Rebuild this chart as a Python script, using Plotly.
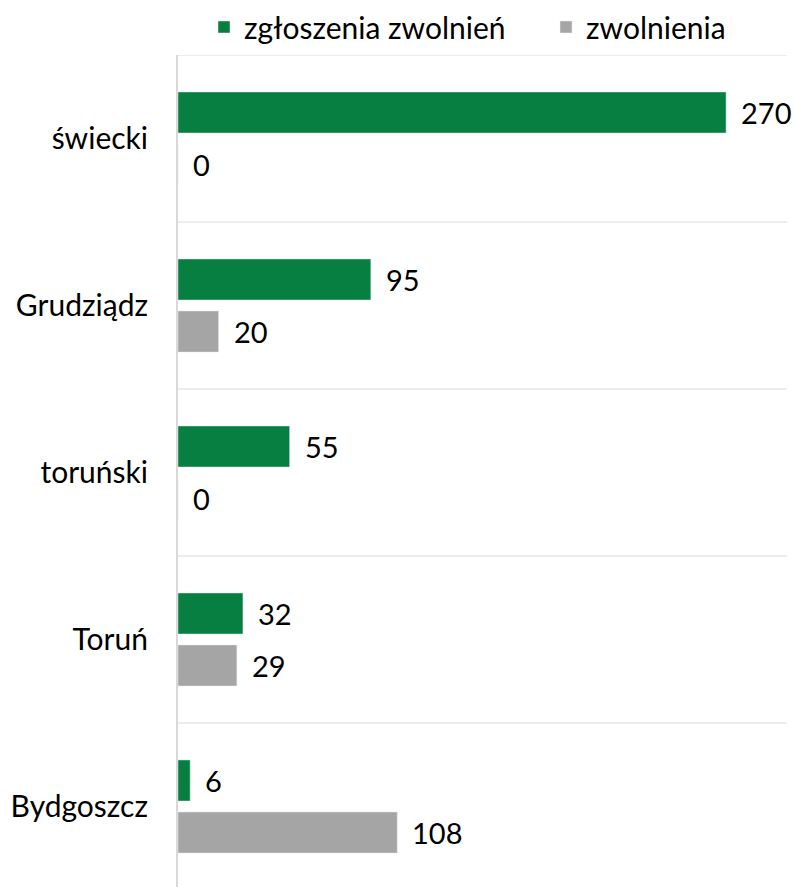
import plotly.graph_objects as go

categories = ["świecki", "Grudziądz", "toruński", "Toruń", "Bydgoszcz"]
zgloszenia = [270, 95, 55, 32, 6]
zwolnienia = [0, 20, 0, 29, 108]
series_names = ["zgłoszenia zwolnień", "zwolnienia"]

GREEN = "#077F40"
GRAY = "#A5A5A5"
FONT = "Lato"
FS = 29

W, H = 794, 887

fig = go.Figure()
fig.add_trace(go.Bar(y=categories, x=zgloszenia, name=series_names[0], orientation="h",
                     marker=dict(color=GREEN), hoverinfo="x+y", legend="legend"))
fig.add_trace(go.Bar(y=categories, x=zwolnienia, name=series_names[1], orientation="h",
                     marker=dict(color=GRAY), hoverinfo="x+y", legend="legend2"))

# value labels
annotations = []
n = 2
slot = 0.311
for i, vals in enumerate([zgloszenia, zwolnienia]):
    off = (i - (n - 1) / 2) * slot
    for j, v in enumerate(vals):
        annotations.append(dict(x=v, y=j + off, xref="x", yref="y", text=str(v),
                                showarrow=False, xanchor="left", yanchor="middle",
                                xshift=13, font=dict(family=FONT, size=FS, color="#000000")))

legend_common = dict(orientation="h", xanchor="left", xref="container", yref="container",
                     y=1 - 27 / H, yanchor="middle", font=dict(size=30), itemwidth=30,
                     bgcolor="rgba(0,0,0,0)")

fig.update_layout(
    width=W, height=H,
    margin=dict(l=178, r=7, t=55, b=0, autoexpand=False),
    paper_bgcolor="white", plot_bgcolor="white",
    barmode="group", bargap=0.377, bargroupgap=0.21,
    font=dict(family=FONT, size=FS, color="#000000"),
    legend=dict(x=204 / W, **legend_common),
    legend2=dict(x=546 / W, **legend_common),
    annotations=annotations,
    showlegend=True,
)
fig.update_xaxes(range=[0, 300], showgrid=False, showticklabels=False, zeroline=False,
                 showline=False, fixedrange=True, automargin=False)
fig.update_yaxes(type="category", range=[4.482, -0.5], showgrid=False, zeroline=False,
                 showline=True, linecolor="#D9D9D9", linewidth=2, ticks="", automargin=False,
                 ticklabelstandoff=22, tickfont=dict(family=FONT, size=30, color="#000000"))
# gridlines between categories
shapes = []
for k in range(len(categories)):
    shapes.append(dict(type="line", xref="paper", yref="y", x0=0, x1=1, y0=k - 0.5, y1=k - 0.5,
                       line=dict(color="#EDEDED", width=2), layer="below"))
fig.update_layout(shapes=shapes)

fig.write_html("out.html", config={"displayModeBar": False},
               post_script="document.body.style.margin='0';document.body.style.overflow='hidden';")
